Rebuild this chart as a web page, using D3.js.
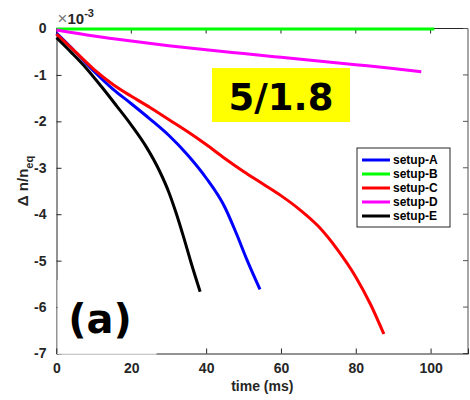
<!DOCTYPE html>
<html>
<head>
<meta charset="utf-8">
<script src="https://cdn.jsdelivr.net/npm/d3@7"></script>
<style>
  html, body { margin: 0; padding: 0; background: #fff; }
  svg { display: block; font-family: "Liberation Sans", Arial, sans-serif; }
</style>
</head>
<body>
<svg id="chart" width="470" height="400"></svg>
<script>
// Time axis (ms) and relative density change (x 1e-3) for each setup
const seriesNames = ["setup-A", "setup-B", "setup-C", "setup-D", "setup-E"];
const seriesColors = ["#0000ff", "#00ff00", "#ff0000", "#ff00ff", "#000000"];

const tA = [0, 5, 10, 15, 20, 25, 30, 35, 40, 45, 48, 51, 54.4];
const vA = [-0.1, -0.5, -0.92, -1.3, -1.62, -1.95, -2.3, -2.72, -3.22, -3.85, -4.4, -5.0, -5.62];

const tB = [0, 25, 50, 75, 101];
const vB = [-0.01, -0.01, -0.01, -0.01, -0.01];

const tC = [0, 5, 10, 15, 20, 25, 30, 35, 40, 45, 50, 55, 60, 65, 70, 75, 80, 84, 87.5];
const vC = [-0.12, -0.5, -0.88, -1.2, -1.46, -1.7, -1.96, -2.22, -2.5, -2.8, -3.08, -3.34, -3.6, -3.9, -4.26, -4.75, -5.35, -5.95, -6.58];

const tD = [0, 10, 20, 30, 40, 50, 60, 70, 80, 90, 97.5];
const vD = [-0.03, -0.16, -0.27, -0.37, -0.46, -0.54, -0.62, -0.70, -0.78, -0.86, -0.93];

const tE = [0, 4, 8, 12, 16, 20, 24, 27.6, 30, 32, 34, 36, 38.4];
const vE = [-0.2, -0.52, -0.86, -1.25, -1.66, -2.08, -2.55, -3.08, -3.52, -3.98, -4.5, -5.05, -5.67];

const xTicks = [0, 20, 40, 60, 80, 100];
const yTicks = [0, -1, -2, -3, -4, -5, -6, -7];

const seriesT = [tA, tB, tC, tD, tE];
const seriesV = [vA, vB, vC, vD, vE];

const svg = d3.select("#chart");
const mLeft = 56.5, mRight = 468, mTop = 28.5, mBottom = 353.5;
const axisColor = "#262626";

const x = d3.scaleLinear().domain([0, 110]).range([mLeft, mRight]);
const y = d3.scaleLinear().domain([-7, 0]).range([mBottom, mTop]);

// Box axes with inward ticks
const tickLen = 5;
const axG = svg.append("g");
axG.append("line").attr("x1", mLeft).attr("x2", mRight).attr("y1", mTop).attr("y2", mTop)
  .attr("stroke", axisColor).attr("stroke-width", 1);
axG.append("line").attr("x1", mRight).attr("x2", mRight).attr("y1", mTop).attr("y2", mBottom)
  .attr("stroke", "#8a8a8a").attr("stroke-width", 1.5);

const xAxis = d3.axisBottom(x).tickValues(xTicks).tickSize(-tickLen).tickPadding(10);
const yAxis = d3.axisLeft(y).tickValues(yTicks).tickSize(-tickLen).tickPadding(10)
  .tickFormat(d => String(d));

const gx = svg.append("g").attr("transform", `translate(0,${mBottom})`).call(xAxis);
const gy = svg.append("g").attr("transform", `translate(${mLeft},0)`).call(yAxis);
[gx, gy].forEach(g => {
  g.select(".domain").attr("stroke", axisColor);
  g.selectAll(".tick line").attr("stroke", axisColor);
  g.selectAll(".tick text").attr("fill", axisColor)
    .style("font-size", "14px").style("font-weight", "bold")
    .style("font-family", "'Liberation Sans', Arial, sans-serif");
});

// Mirror ticks on top and right edges
xTicks.forEach(t => {
  axG.append("line").attr("x1", x(t)).attr("x2", x(t)).attr("y1", mTop).attr("y2", mTop + tickLen)
    .attr("stroke", axisColor);
});
yTicks.forEach(t => {
  axG.append("line").attr("x1", mRight).attr("x2", mRight - tickLen).attr("y1", y(t)).attr("y2", y(t))
    .attr("stroke", "#555");
});

// Curves
const line = d3.line().x(d => x(d[0])).y(d => y(d[1])).curve(d3.curveMonotoneX);
const plot = svg.append("g");
seriesNames.forEach((name, i) => {
  const pts = seriesT[i].map((t, j) => [t, seriesV[i][j]]);
  plot.append("path")
    .datum(pts)
    .attr("d", line)
    .attr("fill", "none")
    .attr("stroke", seriesColors[i])
    .attr("stroke-width", 3)
    .attr("stroke-linejoin", "round");
});

// Exponent marker
const ex = svg.append("text").attr("x", mLeft + 1).attr("y", 24)
  .style("font-size", "15px").attr("fill", axisColor);
ex.append("tspan").text("×").attr("fill", "#777").style("font-weight", "normal").style("font-size", "17px");
ex.append("tspan").text("10").style("font-weight", "bold");
ex.append("tspan").text("-3").attr("dy", -7).style("font-size", "11px").style("font-weight", "bold");

// Axis titles
svg.append("text").attr("x", (mLeft + mRight) / 2).attr("y", 391)
  .attr("text-anchor", "middle").attr("fill", axisColor)
  .style("font-size", "14px").style("font-weight", "bold").text("time (ms)");

const yl = svg.append("text").attr("transform", "translate(28,181) rotate(-90)")
  .attr("text-anchor", "middle").attr("fill", axisColor)
  .style("font-size", "15px").style("font-weight", "bold");
yl.append("tspan").text("Δ n/n");
yl.append("tspan").text("eq").attr("dy", 5).style("font-size", "11px");

// Case label on yellow background
svg.append("rect").attr("x", 212).attr("y", 68).attr("width", 138).attr("height", 54).attr("fill", "#ffff00");
svg.append("text").attr("x", 281).attr("y", 110).attr("text-anchor", "middle")
  .style("font-size", "37px").style("font-weight", "bold")
  .style("font-family", "'DejaVu Sans', sans-serif").attr("fill", "#000").text("5/1.8");

// Panel label with white background over the lower-left corner
svg.append("rect").attr("x", mLeft + 1).attr("y", 280).attr("width", 99).attr("height", mBottom - 280 + 1).attr("fill", "#fff");
svg.append("line").attr("x1", mLeft + 1).attr("x2", 156).attr("y1", mBottom).attr("y2", mBottom)
  .attr("stroke", "#ececec");
svg.append("text").attr("x", 100).attr("y", 333).attr("text-anchor", "middle")
  .style("font-size", "40px").style("font-weight", "bold")
  .style("font-family", "'DejaVu Sans', sans-serif").attr("fill", "#000").text("(a)");

// Legend
const lg = svg.append("g").attr("transform", "translate(357,148)");
lg.append("rect").attr("width", 93).attr("height", 79).attr("fill", "#fff")
  .attr("stroke", "#262626").attr("stroke-width", 1);
seriesNames.forEach((name, i) => {
  const yy = 12 + i * 14;
  lg.append("line").attr("x1", 5).attr("x2", 33).attr("y1", yy).attr("y2", yy)
    .attr("stroke", seriesColors[i]).attr("stroke-width", 3);
  lg.append("text").attr("x", 36).attr("y", yy + 4).attr("fill", "#000")
    .style("font-size", "12px").style("font-weight", "bold").text(name);
});
</script>
</body>
</html>
